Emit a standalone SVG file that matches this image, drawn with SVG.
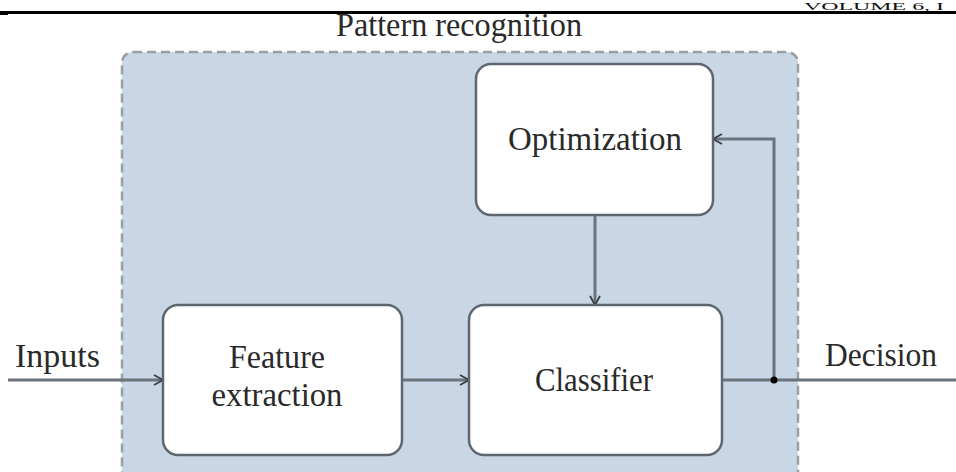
<svg xmlns="http://www.w3.org/2000/svg" width="956" height="472" viewBox="0 0 956 472">
<style>
.lbl{font-family:"Liberation Serif","Times New Roman",serif;font-size:33px;fill:#2a2a2a}
.box{fill:#ffffff;stroke:#5f6670;stroke-width:2.5}
.wire{fill:none;stroke:#6b737c;stroke-width:3}
</style>
<defs>
<marker id="ah" viewBox="0 0 12 12" refX="11" refY="6" markerWidth="12" markerHeight="12" markerUnits="userSpaceOnUse" orient="auto">
<path d="M2,1 L11,6 L2,11" fill="none" stroke="#3a4048" stroke-width="1.8"/>
</marker>
</defs>
<rect width="956" height="472" fill="#ffffff"/>
<g id="header">
<text x="804" y="10" font-family="Liberation Serif,serif" font-size="11" fill="#111" textLength="140" lengthAdjust="spacingAndGlyphs">VOLUME 6, I</text>
<rect x="0" y="11" width="956" height="3" fill="#000"/>
<rect x="0" y="11" width="8" height="4" fill="#000"/>
</g>
<g id="container">
<rect x="122" y="52" width="676" height="440" rx="11" fill="#c9d6e5" stroke="#9a9ea3" stroke-width="2.5" stroke-dasharray="9 5"/>
<text class="lbl" x="459" y="36" text-anchor="middle" textLength="246" lengthAdjust="spacingAndGlyphs">Pattern recognition</text>
</g>
<g id="connectors">
<line class="wire" x1="8" y1="380" x2="163" y2="380" marker-end="url(#ah)"/>
<line class="wire" x1="402" y1="380" x2="469" y2="380" marker-end="url(#ah)"/>
<line class="wire" x1="722" y1="380" x2="956" y2="380"/>
<line class="wire" x1="595" y1="215" x2="595" y2="305" marker-end="url(#ah)"/>
<polyline class="wire" points="774,380 774,139 713,139" marker-end="url(#ah)"/>
<circle cx="774" cy="380" r="3.5" fill="#000"/>
</g>
<g id="inputs-label">
<text class="lbl" x="15" y="367" textLength="85" lengthAdjust="spacingAndGlyphs">Inputs</text>
</g>
<g id="decision-label">
<text class="lbl" x="825" y="366" textLength="112" lengthAdjust="spacingAndGlyphs">Decision</text>
</g>
<g id="optimization">
<rect class="box" x="476" y="64" width="237" height="151" rx="15"/>
<text class="lbl" x="595" y="150" text-anchor="middle" textLength="174" lengthAdjust="spacingAndGlyphs">Optimization</text>
</g>
<g id="feature-extraction">
<rect class="box" x="163" y="305" width="239" height="150" rx="15"/>
<text class="lbl" x="277" y="368" text-anchor="middle" textLength="96" lengthAdjust="spacingAndGlyphs">Feature</text>
<text class="lbl" x="277" y="406" text-anchor="middle" textLength="131" lengthAdjust="spacingAndGlyphs">extraction</text>
</g>
<g id="classifier">
<rect class="box" x="469" y="305" width="253" height="150" rx="15"/>
<text class="lbl" x="594" y="391" text-anchor="middle" textLength="118" lengthAdjust="spacingAndGlyphs">Classifier</text>
</g>
</svg>
